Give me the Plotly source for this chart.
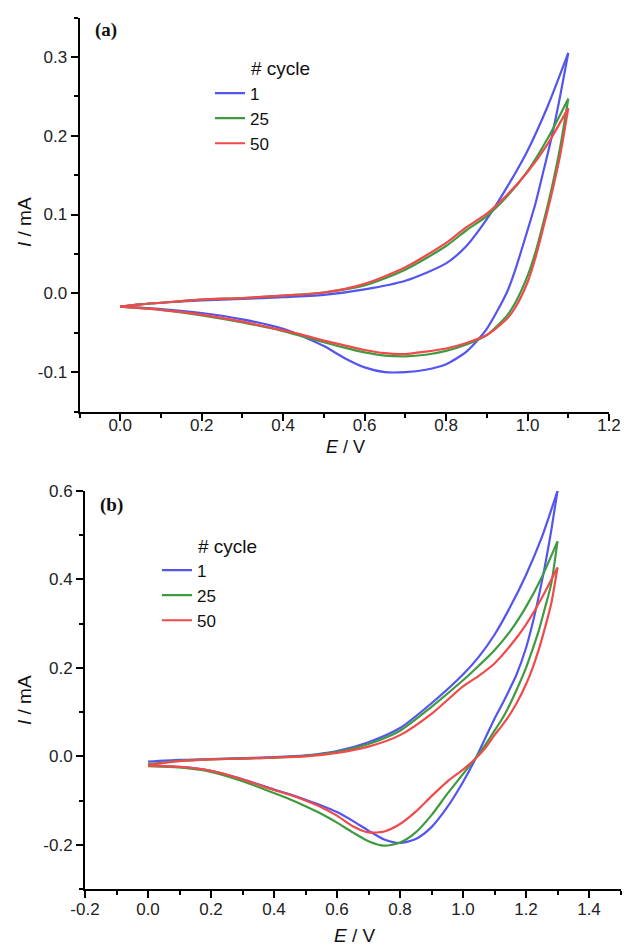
import plotly.graph_objects as go

# ---------------- data: panel (a) ----------------
E_A_UP = [0.0, 0.05, 0.1, 0.2, 0.3, 0.4, 0.5, 0.6, 0.7, 0.8, 0.85, 0.9, 0.95, 1.0, 1.05, 1.1]
I_A1_UP = [-0.017, -0.014, -0.012, -0.009, -0.007, -0.005, -0.002, 0.005, 0.016, 0.038, 0.060, 0.094, 0.135, 0.181, 0.238, 0.305]
I_A25_UP = [-0.017, -0.014, -0.012, -0.008, -0.006, -0.003, 0.001, 0.010, 0.030, 0.060, 0.080, 0.098, 0.123, 0.155, 0.197, 0.247]
I_A50_UP = [-0.017, -0.014, -0.012, -0.008, -0.006, -0.003, 0.001, 0.012, 0.033, 0.064, 0.084, 0.101, 0.125, 0.154, 0.190, 0.235]

E_A_DN = [1.1, 1.08, 1.06, 1.04, 1.02, 1.0, 0.97, 0.95, 0.9, 0.85, 0.8, 0.75, 0.7, 0.65, 0.6, 0.55, 0.5, 0.45, 0.4, 0.3, 0.2, 0.1, 0.0]
I_A1_DN = [0.305, 0.25, 0.20, 0.157, 0.115, 0.08, 0.03, 0.002, -0.045, -0.074, -0.090, -0.097, -0.100, -0.100, -0.094, -0.082, -0.067, -0.055, -0.045, -0.033, -0.025, -0.020, -0.017]
I_A25_DN = [0.247, 0.185, 0.135, 0.092, 0.053, 0.022, -0.012, -0.028, -0.053, -0.065, -0.073, -0.078, -0.080, -0.079, -0.075, -0.069, -0.062, -0.055, -0.048, -0.037, -0.028, -0.021, -0.017]
I_A50_DN = [0.235, 0.175, 0.128, 0.086, 0.046, 0.014, -0.018, -0.032, -0.053, -0.063, -0.070, -0.074, -0.077, -0.076, -0.072, -0.066, -0.060, -0.053, -0.047, -0.036, -0.027, -0.021, -0.017]

# ---------------- data: panel (b) ----------------
E_B_UP = [0.0, 0.1, 0.2, 0.3, 0.4, 0.5, 0.6, 0.7, 0.8, 0.9, 1.0, 1.05, 1.1, 1.15, 1.2, 1.25, 1.3]
I_B1_UP = [-0.012, -0.008, -0.006, -0.004, -0.002, 0.002, 0.012, 0.032, 0.064, 0.120, 0.185, 0.225, 0.275, 0.338, 0.410, 0.495, 0.600]
I_B25_UP = [-0.018, -0.010, -0.007, -0.005, -0.003, 0.001, 0.010, 0.028, 0.058, 0.112, 0.172, 0.205, 0.240, 0.283, 0.338, 0.405, 0.486]
I_B50_UP = [-0.020, -0.011, -0.007, -0.005, -0.003, 0.000, 0.008, 0.022, 0.048, 0.096, 0.158, 0.182, 0.210, 0.250, 0.298, 0.358, 0.427]

E_B_DN = [1.3, 1.28, 1.26, 1.24, 1.22, 1.2, 1.17, 1.14, 1.12, 1.1, 1.07, 1.04, 1.0, 0.95, 0.9, 0.85, 0.8, 0.75, 0.7, 0.65, 0.6, 0.55, 0.5, 0.45, 0.4, 0.3, 0.2, 0.1, 0.0]
I_B1_DN = [0.600, 0.51, 0.43, 0.36, 0.298, 0.245, 0.185, 0.14, 0.112, 0.085, 0.040, -0.005, -0.058, -0.115, -0.160, -0.187, -0.196, -0.188, -0.168, -0.146, -0.126, -0.111, -0.098, -0.086, -0.075, -0.052, -0.033, -0.024, -0.021]
I_B25_DN = [0.486, 0.39, 0.335, 0.283, 0.240, 0.200, 0.150, 0.105, 0.080, 0.058, 0.025, -0.004, -0.040, -0.085, -0.133, -0.172, -0.195, -0.202, -0.192, -0.172, -0.150, -0.130, -0.113, -0.097, -0.083, -0.056, -0.035, -0.025, -0.022]
I_B50_DN = [0.427, 0.345, 0.290, 0.240, 0.198, 0.163, 0.120, 0.085, 0.066, 0.048, 0.018, -0.005, -0.030, -0.057, -0.090, -0.125, -0.153, -0.170, -0.172, -0.158, -0.134, -0.115, -0.100, -0.087, -0.076, -0.052, -0.033, -0.024, -0.021]

CYCLES = ["1", "25", "50"]
COLORS = ["#5454ef", "#3f9b3f", "#f04a4a"]

# ticks
XA_TICKS = [0.0, 0.2, 0.4, 0.6, 0.8, 1.0, 1.2]
XA_LABELS = ["0.0", "0.2", "0.4", "0.6", "0.8", "1.0", "1.2"]
XA_MINOR = [-0.1, 0.1, 0.3, 0.5, 0.7, 0.9, 1.1]
YA_TICKS = [-0.1, 0.0, 0.1, 0.2, 0.3]
YA_LABELS = ["-0.1", "0.0", "0.1", "0.2", "0.3"]
YA_MINOR = [-0.15, -0.05, 0.05, 0.15, 0.25, 0.35]
XB_TICKS = [-0.2, 0.0, 0.2, 0.4, 0.6, 0.8, 1.0, 1.2, 1.4]
XB_LABELS = ["-0.2", "0.0", "0.2", "0.4", "0.6", "0.8", "1.0", "1.2", "1.4"]
XB_MINOR = [-0.1, 0.1, 0.3, 0.5, 0.7, 0.9, 1.1, 1.3, 1.5]
YB_TICKS = [-0.2, 0.0, 0.2, 0.4, 0.6]
YB_LABELS = ["-0.2", "0.0", "0.2", "0.4", "0.6"]
YB_MINOR = [-0.3, -0.1, 0.1, 0.3, 0.5]

W, H = 625, 946
SANS = "Liberation Sans, Arial, sans-serif"
SERIF = "Liberation Serif, Times New Roman, serif"

fig = go.Figure()

panel_a = [(I_A1_UP, I_A1_DN), (I_A25_UP, I_A25_DN), (I_A50_UP, I_A50_DN)]
panel_b = [(I_B1_UP, I_B1_DN), (I_B25_UP, I_B25_DN), (I_B50_UP, I_B50_DN)]

for k, (up, dn) in enumerate(panel_a):
    for j, (ex, iy) in enumerate([(E_A_UP, up), (E_A_DN, dn)]):
        fig.add_trace(go.Scatter(
            x=ex, y=iy, mode="lines", name=CYCLES[k],
            line=dict(color=COLORS[k], width=2.2, shape="spline", smoothing=0.7),
            legendgroup="a" + CYCLES[k], showlegend=(j == 0), legend="legend",
            xaxis="x", yaxis="y"))

for k, (up, dn) in enumerate(panel_b):
    for j, (ex, iy) in enumerate([(E_B_UP, up), (E_B_DN, dn)]):
        fig.add_trace(go.Scatter(
            x=ex, y=iy, mode="lines", name=CYCLES[k],
            line=dict(color=COLORS[k], width=2.2, shape="spline", smoothing=0.7),
            legendgroup="b" + CYCLES[k], showlegend=(j == 0), legend="legend2",
            xaxis="x2", yaxis="y2"))


def px_x(p):
    return p / W


def px_y(p):
    return 1 - p / H


axis_common = dict(
    showline=True, linecolor="black", linewidth=2, mirror=False,
    showgrid=False, zeroline=False, automargin=False,
    ticks="outside", ticklen=7, tickwidth=1.6, tickcolor="black",
    tickfont=dict(family=SANS, size=17, color="#222"),
    tickmode="array",
)


def minor(vals):
    return dict(ticks="outside", ticklen=4, tickwidth=1.6, tickcolor="black",
                tickmode="array", tickvals=vals, showgrid=False)


fig.update_layout(
    template="none",
    width=W, height=H,
    margin=dict(l=0, r=0, t=0, b=0, pad=0, autoexpand=False),
    paper_bgcolor="white", plot_bgcolor="white",
    xaxis=dict(axis_common, domain=[px_x(79.5), px_x(609)], range=[-0.1, 1.2],
               tickvals=XA_TICKS, ticktext=XA_LABELS, minor=minor(XA_MINOR), anchor="y",
               ticklabelstandoff=-10),
    yaxis=dict(axis_common, domain=[px_y(411.5), px_y(17.5)], range=[-0.15, 0.35],
               tickvals=YA_TICKS, ticktext=YA_LABELS, minor=minor(YA_MINOR), anchor="x"),
    xaxis2=dict(axis_common, domain=[px_x(85), px_x(620.5)], range=[-0.2, 1.5],
                tickvals=XB_TICKS, ticktext=XB_LABELS, minor=minor(XB_MINOR), anchor="y2",
                ticklabelstandoff=-3),
    yaxis2=dict(axis_common, domain=[px_y(889), px_y(491)], range=[-0.3, 0.6],
                tickvals=YB_TICKS, ticktext=YB_LABELS, minor=minor(YB_MINOR), anchor="x2"),
    legend=dict(x=px_x(210), y=px_y(75.5), xanchor="left", yanchor="top",
                font=dict(family=SANS, size=17, color="#111"),
                bgcolor="rgba(0,0,0,0)", borderwidth=0, tracegroupgap=0,
                traceorder="normal"),
    legend2=dict(x=px_x(157), y=px_y(552.5), xanchor="left", yanchor="top",
                 font=dict(family=SANS, size=17, color="#111"),
                 bgcolor="rgba(0,0,0,0)", borderwidth=0, tracegroupgap=0,
                 traceorder="normal"),
    showlegend=True,
)

ann_font = dict(family=SANS, size=19, color="#111")
annotations = [
    dict(text="<b>(a)</b>", x=px_x(106), y=px_y(30), font=dict(family=SERIF, size=19, color="#111"),
         xanchor="center", yanchor="middle"),
    dict(text="<b>(b)</b>", x=px_x(111), y=px_y(505), font=dict(family=SERIF, size=19, color="#111"),
         xanchor="center", yanchor="middle"),
    dict(text="# cycle", x=px_x(249), y=px_y(68), font=ann_font, xanchor="left", yanchor="middle"),
    dict(text="# cycle", x=px_x(196), y=px_y(546), font=ann_font, xanchor="left", yanchor="middle"),
    dict(text="<i>E</i> / V", x=px_x(345), y=px_y(447), font=dict(family=SANS, size=18, color="#111"),
         xanchor="center", yanchor="middle"),
    dict(text="<i>E</i> / V", x=px_x(355), y=px_y(935), font=ann_font, xanchor="center", yanchor="middle"),
    dict(text="<i>I</i> / mA", x=px_x(24), y=px_y(222), font=ann_font, xanchor="center", yanchor="middle", textangle=-90),
    dict(text="<i>I</i> / mA", x=px_x(24), y=px_y(700), font=ann_font, xanchor="center", yanchor="middle", textangle=-90),
]
for a in annotations:
    a.update(xref="paper", yref="paper", showarrow=False)
fig.update_layout(annotations=annotations)

fig.write_html("out.html")
